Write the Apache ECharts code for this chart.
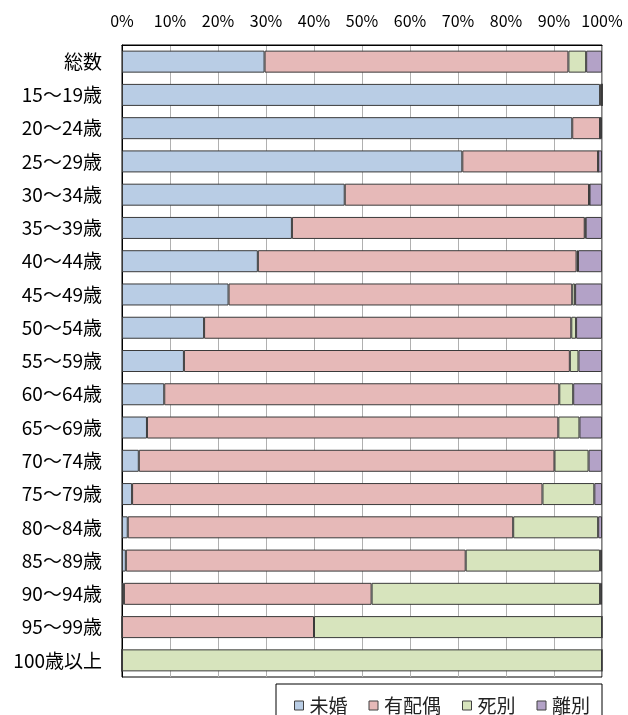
<!DOCTYPE html>
<html>
<head>
<meta charset="utf-8">
<script src="https://cdn.jsdelivr.net/npm/echarts@6/dist/echarts.min.js"></script>
<style>
  html, body { margin: 0; padding: 0; background: #fff; }
  #main { width: 628px; height: 715px; }
</style>
</head>
<body>
<div id="main"></div>
<script>
// 年齢階級
var categories = ['総数', '15～19歳', '20～24歳', '25～29歳', '30～34歳', '35～39歳', '40～44歳',
  '45～49歳', '50～54歳', '55～59歳', '60～64歳', '65～69歳', '70～74歳', '75～79歳',
  '80～84歳', '85～89歳', '90～94歳', '95～99歳', '100歳以上'];

// 配偶関係別の割合 (%)
var mikon   = [29.7, 99.6, 93.8, 70.9, 46.4, 35.4, 28.3, 22.2, 17.1, 12.9, 8.8, 5.2, 3.5, 2.1, 1.2, 0.8, 0.4, 0, 0];
var haiguu  = [63.3, 0.4, 5.8, 28.3, 50.9, 61.0, 66.4, 71.6, 76.5, 80.4, 82.3, 85.7, 86.6, 85.5, 80.3, 70.8, 51.6, 40.0, 0];
var shibetsu = [3.7, 0, 0, 0, 0.1, 0.2, 0.3, 0.6, 1.0, 1.8, 2.9, 4.4, 7.1, 10.8, 17.7, 28.0, 47.6, 60.0, 100];
var ribetsu = [3.3, 0, 0.4, 0.8, 2.6, 3.4, 5.0, 5.6, 5.4, 4.9, 6.0, 4.7, 2.8, 1.6, 0.8, 0.4, 0.4, 0, 0];

var xTicks = [0, 10, 20, 30, 40, 50, 60, 70, 80, 90, 100];

var seriesNames = ['未婚', '有配偶', '死別', '離別'];
var seriesData = [mikon, haiguu, shibetsu, ribetsu];
var colors = ['#b9cde5', '#e6b9b8', '#d7e4bd', '#b3a2c7'];

var font = '"Noto Sans CJK JP", "Noto Sans", sans-serif';

var myChart = echarts.init(document.getElementById('main'), null, {renderer: 'canvas'});

var series = [];
for (var i = 0; i < seriesNames.length; i++) {
  series.push({
    name: seriesNames[i],
    type: 'bar',
    stack: 'total',
    barWidth: 22,
    itemStyle: {color: colors[i], borderColor: '#3a3a3a', borderWidth: 1},
    data: seriesData[i]
  });
}

var option = {
  backgroundColor: '#fff',
  animation: false,
  color: colors,
  textStyle: {fontFamily: font},
  grid: {
    left: 122,
    right: 26,
    top: 45,
    bottom: 38,
    show: true,
    borderColor: '#000',
    borderWidth: 1
  },
  legend: {
    data: seriesNames,
    left: 289,
    top: 691,
    itemGap: 21,
    itemWidth: 9,
    itemHeight: 9,
    icon: 'rect',
    itemStyle: {borderColor: '#404040', borderWidth: 1},
    textStyle: {fontSize: 19, color: '#222', fontFamily: font, padding: [0, 0, 0, 1]}
  },
  graphic: [{
    type: 'rect',
    shape: {x: 276, y: 684, width: 326, height: 50},
    style: {fill: 'none', stroke: '#000', lineWidth: 1},
    silent: true
  }],
  xAxis: {
    type: 'value',
    position: 'top',
    min: xTicks[0],
    max: xTicks[xTicks.length - 1],
    interval: 10,
    axisLine: {show: true, lineStyle: {color: '#000'}},
    axisTick: {show: false},
    axisLabel: {
      formatter: '{value}%',
      fontSize: 16,
      color: '#000',
      margin: 16,
      fontFamily: font
    },
    splitLine: {show: true, lineStyle: {color: '#b0b0b0', width: 1}}
  },
  yAxis: {
    type: 'category',
    inverse: true,
    data: categories,
    axisLine: {show: true, lineStyle: {color: '#000'}},
    axisTick: {show: false},
    axisLabel: {fontSize: 19, color: '#000', margin: 20, fontFamily: font}
  },
  series: series
};

myChart.setOption(option, true);
</script>
</body>
</html>
